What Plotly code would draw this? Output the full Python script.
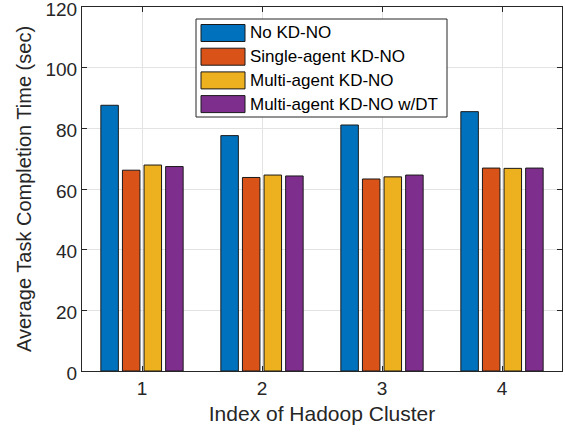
import plotly.graph_objects as go

clusters = [1, 2, 3, 4]
series_names = ["No KD-NO", "Single-agent KD-NO", "Multi-agent KD-NO", "Multi-agent KD-NO w/DT"]
no_kdno = [87.6, 77.6, 81.1, 85.5]
single_agent = [66.2, 63.8, 63.3, 66.9]
multi_agent = [67.9, 64.6, 64.0, 66.8]
multi_agent_dt = [67.4, 64.3, 64.6, 66.9]
colors = ["#0072BD", "#D95319", "#EDB120", "#7E2F8E"]
y_ticks = [0, 20, 40, 60, 80, 100, 120]

series = [no_kdno, single_agent, multi_agent, multi_agent_dt]

W, H = 565, 436
L, R, T, B = 82, 3, 7, 65
PW, PH = W - L - R, H - T - B

def px_x(x):
    return (x - L) / PW

def px_y(y):
    return (H - B - y) / PH

fig = go.Figure()
for name, vals, c in zip(series_names, series, colors):
    fig.add_trace(go.Bar(x=clusters, y=vals, name=name, showlegend=False,
                         marker=dict(color=c, line=dict(color="#1a1a1a", width=1))))

axis_common = dict(showline=True, linecolor="#262626", linewidth=1, mirror="ticks",
                   ticks="inside", ticklen=5, tickcolor="#262626",
                   showgrid=True, gridcolor="#e3e3e3", gridwidth=1,
                   tickfont=dict(family="Liberation Sans, Arial", size=19, color="#262626"),
                   zeroline=False, automargin=False, ticklabeloverflow="allow")

# Custom legend (MATLAB style, wide patches)
shapes = [dict(type="rect", xref="paper", yref="paper",
               x0=px_x(196), x1=px_x(447), y0=px_y(117), y1=px_y(19),
               fillcolor="white", line=dict(color="#262626", width=1), layer="above")]
annotations = []
for i, (name, c) in enumerate(zip(series_names, colors)):
    yc = 33 + 23.7 * i
    shapes.append(dict(type="rect", xref="paper", yref="paper",
                       x0=px_x(201), x1=px_x(245), y0=px_y(yc + 8.5), y1=px_y(yc - 8.5),
                       fillcolor=c, line=dict(color="#1a1a1a", width=1), layer="above"))
    annotations.append(dict(xref="paper", yref="paper", x=px_x(248), y=px_y(yc),
                            xanchor="left", yanchor="middle", text=name, showarrow=False,
                            font=dict(family="Liberation Sans, Arial", size=17, color="black")))

fig.update_layout(
    width=W, height=H,
    margin=dict(l=L, r=R, t=T, b=B),
    paper_bgcolor="white", plot_bgcolor="white",
    barmode="group", bargap=0.28, bargroupgap=0.19,
    font=dict(family="Liberation Sans, Arial", color="#262626"),
    xaxis=dict(range=[0.5, 4.5], tickvals=clusters, ticktext=[str(c) for c in clusters],
               title=dict(text="Index of Hadoop Cluster", font=dict(size=21, color="#262626"), standoff=8),
               **axis_common),
    yaxis=dict(range=[0, 120], tickvals=y_ticks, ticklabelshift=2,
               title=dict(text="Average Task Completion Time (sec)", font=dict(size=20, color="#262626"), standoff=8),
               **axis_common),
    shapes=shapes, annotations=annotations,
)

fig.write_html("out.html", config={"displayModeBar": False},
               post_script="document.body.style.margin='0';")
